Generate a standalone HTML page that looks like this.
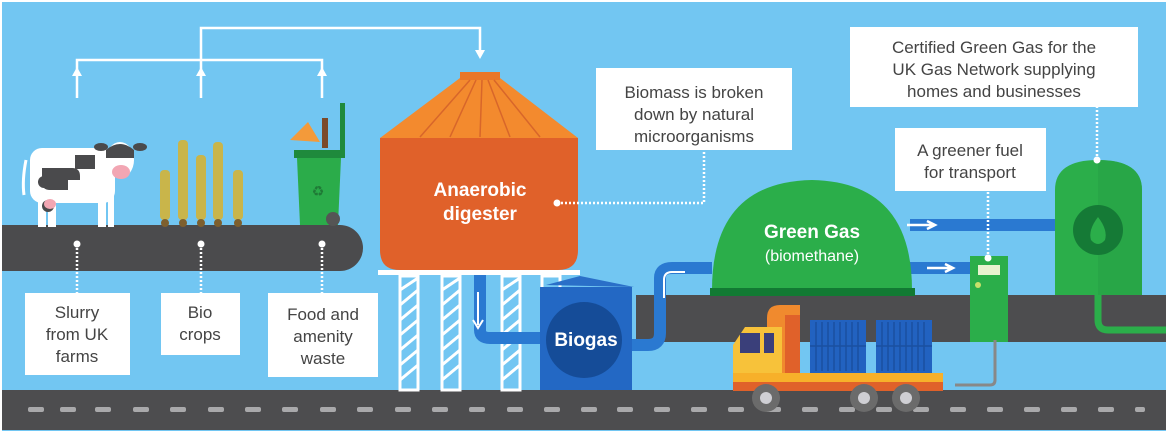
<!DOCTYPE html>
<html><head><meta charset="utf-8"><style>
html,body{margin:0;padding:0;background:#fff}
svg{display:block}
text{font-family:"Liberation Sans",sans-serif}
</style></head><body>
<svg width="1168" height="433" viewBox="0 0 1168 433" xmlns="http://www.w3.org/2000/svg">
<defs><clipPath id="tk"><path d="M1055 295 V190 Q1055 160 1098 160 Q1142 160 1142 190 V295 Z"/></clipPath></defs>
<rect x="2" y="2" width="1164" height="429" fill="#72c6f2"/>
<!-- road -->
<rect x="2" y="390" width="1164" height="40" fill="#4d4d4f"/>
<g fill="#a9a9ab">
<rect x="28" y="407" width="16" height="5" rx="2"/><rect x="60" y="407" width="16" height="5" rx="2"/><rect x="95" y="407" width="16" height="5" rx="2"/><rect x="133" y="407" width="16" height="5" rx="2"/><rect x="170" y="407" width="16" height="5" rx="2"/><rect x="208" y="407" width="16" height="5" rx="2"/><rect x="245" y="407" width="16" height="5" rx="2"/><rect x="282" y="407" width="16" height="5" rx="2"/><rect x="320" y="407" width="16" height="5" rx="2"/><rect x="357" y="407" width="16" height="5" rx="2"/><rect x="395" y="407" width="16" height="5" rx="2"/><rect x="432" y="407" width="16" height="5" rx="2"/><rect x="469" y="407" width="16" height="5" rx="2"/><rect x="507" y="407" width="16" height="5" rx="2"/><rect x="544" y="407" width="16" height="5" rx="2"/><rect x="581" y="407" width="16" height="5" rx="2"/><rect x="617" y="407" width="16" height="5" rx="2"/><rect x="654" y="407" width="16" height="5" rx="2"/><rect x="691" y="407" width="16" height="5" rx="2"/><rect x="728" y="407" width="16" height="5" rx="2"/><rect x="765" y="407" width="16" height="5" rx="2"/><rect x="802" y="407" width="16" height="5" rx="2"/><rect x="839" y="407" width="16" height="5" rx="2"/><rect x="876" y="407" width="16" height="5" rx="2"/><rect x="913" y="407" width="16" height="5" rx="2"/><rect x="950" y="407" width="16" height="5" rx="2"/><rect x="987" y="407" width="16" height="5" rx="2"/><rect x="1024" y="407" width="16" height="5" rx="2"/><rect x="1061" y="407" width="16" height="5" rx="2"/><rect x="1098" y="407" width="16" height="5" rx="2"/><rect x="1135" y="407" width="10" height="5" rx="2"/>
</g>
<!-- belt -->
<path d="M2 225 H340 A23 23 0 0 1 340 271 H2 Z" fill="#4b4b4d"/>
<!-- right band -->
<rect x="636" y="295" width="530" height="47" fill="#4d4d4f"/>
<!-- top arrows -->
<g stroke="#fff" stroke-width="2.5" fill="none">
<path d="M77 98 V60 H322 V98"/><path d="M201 98 V28 H480 V52"/>
</g>
<g fill="#fff">
<path d="M72 76 L77 67 L82 76 Z"/><path d="M196 76 L201 67 L206 76 Z"/><path d="M317 76 L322 67 L327 76 Z"/><path d="M475 50 L480 59 L485 50 Z"/>
</g>
<!-- cow -->
<g>
<path d="M26 160 Q22 180 24 195" stroke="#fff" stroke-width="3" fill="none"/>
<rect x="30" y="148" width="85" height="55" rx="12" fill="#fff"/>
<rect x="38" y="195" width="8" height="32" fill="#fff"/><rect x="48" y="195" width="8" height="32" fill="#fff"/>
<rect x="98" y="195" width="8" height="32" fill="#fff"/><rect x="108" y="195" width="6" height="32" fill="#fff"/>
<path d="M42 168 h30 q8 0 8 8 v4 h-12 v10 h-18 q-8 0 -8 -8 z" fill="#4a4a4c"/>
<circle cx="44" cy="182" r="6" fill="#4a4a4c"/><circle cx="48" cy="206" r="6" fill="#4a4a4c"/>
<path d="M75 155 h20 v14 h-20z" fill="#4a4a4c"/>
<ellipse cx="120" cy="160" rx="14" ry="18" fill="#fff"/>
<path d="M106 150 q14 -12 28 0 v8 h-28z" fill="#4a4a4c"/>
<ellipse cx="121" cy="172" rx="9" ry="7" fill="#f2a6b3"/>
<ellipse cx="101" cy="147" rx="7" ry="4" fill="#4a4a4c"/><ellipse cx="140" cy="147" rx="7" ry="4" fill="#4a4a4c"/>
<ellipse cx="50" cy="204" rx="6" ry="5" fill="#f2a6b3"/>
</g>
<!-- crops -->
<g stroke="#3b3b3b" stroke-width="2">
<line x1="165" y1="195" x2="165" y2="225"/><line x1="183" y1="152" x2="183" y2="225"/><line x1="201" y1="165" x2="201" y2="225"/><line x1="218" y1="150" x2="218" y2="225"/><line x1="238" y1="195" x2="238" y2="225"/>
</g>
<g fill="#c9b54a">
<rect x="160" y="170" width="10" height="50" rx="4"/><rect x="178" y="140" width="10" height="80" rx="4"/><rect x="196" y="155" width="10" height="65" rx="4"/><rect x="213" y="142" width="10" height="78" rx="4"/><rect x="233" y="170" width="10" height="50" rx="4"/>
</g>
<g fill="#7d5f2e"><circle cx="165" cy="223" r="4"/><circle cx="183" cy="223" r="4"/><circle cx="201" cy="223" r="4"/><circle cx="218" cy="223" r="4"/><circle cx="238" cy="223" r="4"/></g>
<!-- bin -->
<path d="M290 140 l18 -18 l12 20 z" fill="#f39a3a"/>
<rect x="322" y="118" width="6" height="30" fill="#7b4a2a"/>
<rect x="340" y="103" width="5" height="55" fill="#1f8a3c"/>
<rect x="294" y="150" width="50" height="8" fill="#1f8a3c"/>
<path d="M297 158 h44 l-3 67 h-38 z" fill="#2bac4a"/>
<circle cx="333" cy="219" r="7" fill="#555"/>
<text x="318" y="196" font-size="14" fill="#1f7a36" text-anchor="middle">♻</text>
<!-- digester legs -->
<g stroke="#fff" stroke-width="3" fill="none">
<rect x="400" y="276" width="18" height="114"/><rect x="442" y="276" width="18" height="114"/><rect x="502" y="276" width="18" height="114"/><rect x="542" y="276" width="18" height="20"/>
<path d="M400 290 L418 278 M400 305 L418 290 M400 320 L418 305 M400 335 L418 320 M400 350 L418 335 M400 365 L418 350 M400 380 L418 365"/>
<path d="M442 290 L460 278 M442 305 L460 290 M442 320 L460 305 M442 335 L460 320 M442 350 L460 335 M442 365 L460 350 M442 380 L460 365"/>
<path d="M502 290 L520 278 M502 305 L520 290 M502 320 L520 305 M502 335 L520 320 M502 350 L520 335 M502 365 L520 350 M502 380 L520 365"/>
</g>
<rect x="378" y="270" width="202" height="5" fill="#fff"/>
<!-- digester -->
<path d="M380 138 L460 78 H500 L578 138 Z" fill="#f38a2e"/>
<rect x="460" y="72" width="40" height="8" fill="#e9762a"/>
<g stroke="#d8662a" stroke-width="1.5"><line x1="470" y1="80" x2="420" y2="137"/><line x1="476" y1="80" x2="450" y2="137"/><line x1="482" y1="80" x2="480" y2="137"/><line x1="488" y1="80" x2="510" y2="137"/><line x1="494" y1="80" x2="540" y2="137"/></g>
<path d="M380 138 H578 V250 Q578 270 558 270 H400 Q380 270 380 250 Z" fill="#e0612a"/>
<text x="480" y="196" font-size="19" fill="#fff" text-anchor="middle" font-weight="bold">Anaerobic</text>
<text x="480" y="220" font-size="19" fill="#fff" text-anchor="middle" font-weight="bold">digester</text>
<!-- pipes -->
<path d="M480 275 V330 Q480 338 490 338 H545" stroke="#2a79d1" stroke-width="12" fill="none"/>
<path d="M478 292 V325 M473 320 L478 328 L483 320" stroke="#fff" stroke-width="2" fill="none"/>
<path d="M628 345 H648 Q660 345 660 333 V278 Q660 268 672 268 H712" stroke="#2a79d1" stroke-width="12" fill="none"/>
<path d="M664 298 V280 Q664 272 672 272 H685" stroke="#fff" stroke-width="2" fill="none"/>
<!-- biogas tank -->
<path d="M546 285 L580 276 L634 287 Z" fill="#2a6fc8"/>
<rect x="540" y="287" width="92" height="103" fill="#2368c4"/>
<circle cx="584" cy="340" r="38" fill="#154c98"/>
<text x="586" y="346" font-size="19" fill="#fff" text-anchor="middle" font-weight="bold">Biogas</text>
<!-- green pipes -->
<rect x="910" y="219" width="146" height="12" fill="#2a79d1"/>
<rect x="910" y="262" width="62" height="12" fill="#2a79d1"/>
<path d="M907 225 H933 M927 221 L935 225 L927 229" stroke="#fff" stroke-width="2.5" fill="none"/>
<path d="M927 268 H951 M945 264 L953 268 L945 272" stroke="#fff" stroke-width="2.5" fill="none"/>
<!-- dome -->
<path d="M712 290 Q712 182 812 180 Q912 182 912 290 Z" fill="#2bae4a"/>
<rect x="710" y="288" width="205" height="8" fill="#127a33"/>
<text x="812" y="238" font-size="19" fill="#fff" text-anchor="middle" font-weight="bold">Green Gas</text>
<text x="812" y="261" font-size="16" fill="#fff" text-anchor="middle">(biomethane)</text>
<!-- right tank -->
<path d="M1055 295 V190 Q1055 160 1098 160 Q1142 160 1142 190 V295 Z" fill="#2bae4a"/>
<rect x="1098" y="150" width="44" height="145" fill="#27a046" opacity="0.6" clip-path="url(#tk)"/>
<circle cx="1098" cy="230" r="25" fill="#157a36"/>
<path d="M1098 217 Q1108 230 1105 240 Q1098 248 1091 240 Q1088 230 1098 217 Z" fill="#2bae4a"/>
<path d="M1098 295 V320 Q1098 330 1108 330 H1166" stroke="#2bae4a" stroke-width="7" fill="none"/>
<!-- pump -->
<rect x="970" y="256" width="38" height="86" fill="#2bae4a"/>
<rect x="978" y="265" width="22" height="10" fill="#e8f2d0"/>
<circle cx="978" cy="285" r="3" fill="#c8e06a"/>
<path d="M995 340 V380 Q995 385 990 385 H955" stroke="#888" stroke-width="3" fill="none"/>
<!-- truck -->
<path d="M767 373 V318 Q767 305 780 305 H800 V373 Z" fill="#f08a2e"/>
<rect x="785" y="315" width="15" height="60" fill="#e0612a"/>
<rect x="810" y="320" width="56" height="53" fill="#2262c0"/>
<rect x="876" y="320" width="56" height="53" fill="#2262c0"/>
<g stroke="#1a50a0" stroke-width="1.5">
<path d="M816 322 V371 M822 322 V371 M828 322 V371 M834 322 V371 M840 322 V371 M846 322 V371 M852 322 V371 M858 322 V371"/>
<path d="M882 322 V371 M888 322 V371 M894 322 V371 M900 322 V371 M906 322 V371 M912 322 V371 M918 322 V371 M924 322 V371"/>
<path d="M810 346 H866 M876 346 H932"/>
</g>
<path d="M733 390 V345 L745 327 H782 V390 Z" fill="#f7c23a"/>
<rect x="740" y="333" width="20" height="20" fill="#3a3f7a"/><rect x="764" y="333" width="10" height="20" fill="#3a3f7a"/>
<rect x="733" y="373" width="210" height="18" fill="#f7b02a"/>
<rect x="733" y="382" width="210" height="9" fill="#e0612a"/>
<g fill="#6b6b6b"><circle cx="766" cy="398" r="14"/><circle cx="864" cy="398" r="14"/><circle cx="906" cy="398" r="14"/></g>
<g fill="#cfcfd4"><circle cx="766" cy="398" r="6"/><circle cx="864" cy="398" r="6"/><circle cx="906" cy="398" r="6"/></g>
<!-- dotted connectors -->
<g stroke="#fff" stroke-width="2.5" stroke-dasharray="2 2" fill="none">
<path d="M77 244 V293"/><path d="M201 244 V293"/><path d="M322 244 V293"/>
<path d="M557 203 H704 V150"/><path d="M988 258 V192"/><path d="M1097 160 V107"/>
</g>
<g fill="#fff"><circle cx="77" cy="244" r="3.5"/><circle cx="201" cy="244" r="3.5"/><circle cx="322" cy="244" r="3.5"/><circle cx="557" cy="203" r="3.5"/><circle cx="988" cy="258" r="3.5"/><circle cx="1097" cy="160" r="3.5"/></g>
<!-- boxes -->
<g fill="#fff">
<rect x="25" y="293" width="105" height="82"/><rect x="161" y="293" width="79" height="62"/><rect x="268" y="293" width="110" height="84"/>
<rect x="596" y="68" width="196" height="82"/><rect x="850" y="27" width="288" height="80"/><rect x="895" y="128" width="151" height="63"/>
</g>
<g font-size="17" fill="#444" text-anchor="middle">
<text x="77" y="318">Slurry</text><text x="77" y="340">from UK</text><text x="77" y="362">farms</text>
<text x="200" y="318">Bio</text><text x="200" y="340">crops</text>
<text x="323" y="320">Food and</text><text x="323" y="342">amenity</text><text x="323" y="364">waste</text>
<text x="694" y="98">Biomass is broken</text><text x="694" y="120">down by natural</text><text x="694" y="142">microorganisms</text>
<text x="994" y="53">Certified Green Gas for the</text><text x="994" y="75">UK Gas Network supplying</text><text x="994" y="97">homes and businesses</text>
<text x="970" y="156">A greener fuel</text><text x="970" y="178">for transport</text>
</g>
</svg>
</body></html>
